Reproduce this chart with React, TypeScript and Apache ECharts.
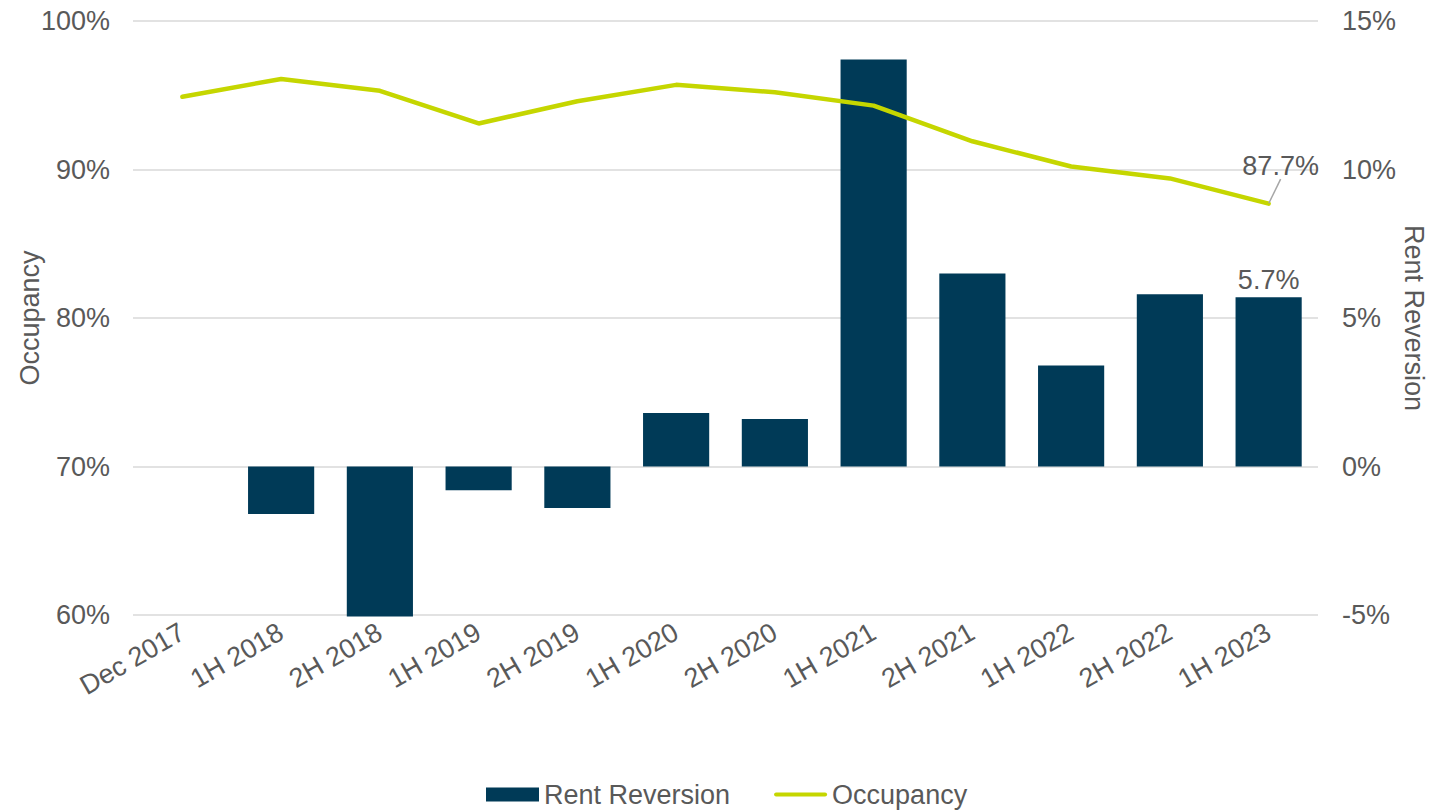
import React, { useEffect, useRef } from "react";
import * as echarts from "echarts";

const categories = ["Dec 2017", "1H 2018", "2H 2018", "1H 2019", "2H 2019", "1H 2020", "2H 2020", "1H 2021", "2H 2021", "1H 2022", "2H 2022", "1H 2023"];
const rentReversion = [null, -1.6, -5.05, -0.8, -1.4, 1.8, 1.6, 13.7, 6.5, 3.4, 5.8, 5.7];
const occupancy = [94.9, 96.1, 95.3, 93.1, 94.6, 95.7, 95.2, 94.3, 91.9, 90.2, 89.4, 87.7];
const leftTicks = { min: 60, max: 100, interval: 10 };
const rightTicks = { min: -5, max: 15, interval: 5 };

const FONT = "'Liberation Sans', Arial, sans-serif";
const GREY = "#595959";
const LIME = "#c5d600";
const FS = 27;

export default function App() {
  const ref = useRef<HTMLDivElement>(null);
  useEffect(() => {
    document.body.style.margin = "0";
    document.body.style.overflow = "hidden";
    const chart = echarts.init(ref.current!, null, { renderer: "svg" });
    const last = occupancy.length - 1;
    chart.setOption({
      animation: false,
      textStyle: { fontFamily: FONT },
      grid: { left: 133, right: 132, top: 21, bottom: 195, outerBoundsMode: "none", containLabel: false },
      legend: {
        top: 781,
        left: 486,
        padding: 0,
        itemGap: 44,
        itemWidth: 53,
        itemHeight: 14,
        textStyle: { fontSize: FS, color: GREY, fontFamily: FONT },
        data: [
          { name: "Rent Reversion", icon: "rect" },
          {
            name: "Occupancy",
            icon: "path://M2,0 L51,0 A2,2 0 0 1 51,4 L2,4 A2,2 0 0 1 2,0 Z",
            itemStyle: { color: LIME },
          },
        ],
      },
      xAxis: {
        type: "category",
        data: categories,
        axisLine: { show: false },
        axisTick: { show: false },
        axisLabel: { rotate: 30, fontSize: FS, color: GREY, margin: 15, interval: 0 },
      },
      yAxis: [
        {
          type: "value",
          ...leftTicks,
          name: "Occupancy",
          nameLocation: "middle",
          nameGap: 90,
          nameMoveOverlap: false,
          nameTextStyle: { fontSize: FS, color: GREY },
          axisLabel: { fontSize: FS, color: GREY, margin: 23, formatter: (v: number) => v + "%" },
          splitLine: { lineStyle: { color: "#d9d9d9", width: 1.5 } },
          axisLine: { show: false },
          axisTick: { show: false },
        },
        {
          type: "value",
          ...rightTicks,
          name: "Rent Reversion",
          nameLocation: "middle",
          nameRotate: -90,
          nameGap: 82,
          nameMoveOverlap: false,
          nameTextStyle: { fontSize: FS, color: GREY },
          axisLabel: { fontSize: FS, color: GREY, margin: 24, formatter: (v: number) => v + "%" },
          splitLine: { show: false },
          axisLine: { show: false },
          axisTick: { show: false },
        },
      ],
      series: [
        {
          name: "Rent Reversion",
          type: "bar",
          yAxisIndex: 1,
          data: rentReversion.map((v, i) =>
            i === last
              ? { value: v, label: { show: true, position: "top", distance: 4, formatter: (p: any) => p.value.toFixed(1) + "%", fontSize: FS, color: GREY } }
              : v
          ),
          barCategoryGap: "33%",
          clip: false,
          itemStyle: { color: "#003a57" },
        },
        {
          name: "Occupancy",
          type: "line",
          yAxisIndex: 0,
          data: occupancy,
          symbol: "none",
          lineStyle: { color: LIME, width: 4.5, cap: "round" },
          itemStyle: { color: LIME },
        },
        {
          name: "occLabel",
          type: "line",
          yAxisIndex: 0,
          data: occupancy.map((v, i) => (i === last ? v : null)),
          symbol: "circle",
          symbolSize: 1,
          showSymbol: true,
          lineStyle: { opacity: 0 },
          itemStyle: { color: "rgba(0,0,0,0)" },
          label: {
            show: true,
            position: "top",
            distance: 5,
            formatter: (p: any) => p.value.toFixed(1) + "%",
            fontSize: FS,
            color: GREY,
          },
          labelLine: { show: true, lineStyle: { color: "#a6a6a6", width: 1.5 } },
          labelLayout: { dx: 12, dy: -19 },
          silent: true,
        },
      ],
    });
    return () => chart.dispose();
  }, []);
  return <div ref={ref} style={{ width: 1450, height: 810 }} />;
}
